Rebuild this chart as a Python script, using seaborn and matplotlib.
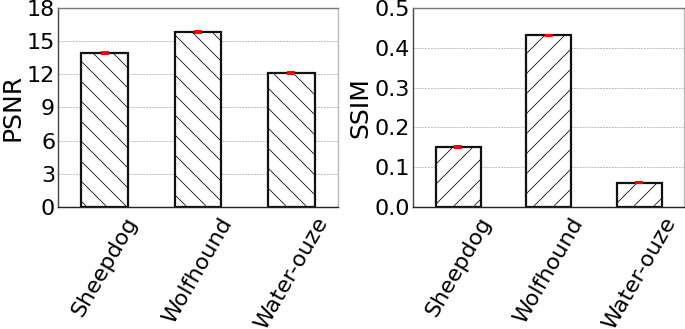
import matplotlib
matplotlib.use("Agg")
import matplotlib.pyplot as plt
import seaborn as sns
import pandas as pd

categories = ["Sheepdog", "Wolfhound", "Water-ouze"]
psnr = [13.9, 15.85, 12.1]
psnr_err = [0.08, 0.08, 0.08]
ssim = [0.151, 0.431, 0.061]
ssim_err = [0.002, 0.002, 0.002]
psnr_ticks = [0, 3, 6, 9, 12, 15, 18]
ssim_ticks = [0.0, 0.1, 0.2, 0.3, 0.4, 0.5]

DPI = 120
S = 100 / DPI

sns.set_theme(style="white")
plt.rcParams['font.family'] = ['DejaVu Sans']
plt.rcParams['hatch.linewidth'] = 0.6 * S
plt.rcParams['hatch.color'] = '#555555'
plt.rcParams['text.color'] = 'black'
plt.rcParams['axes.labelcolor'] = 'black'
plt.rcParams['xtick.color'] = 'black'
plt.rcParams['ytick.color'] = 'black'

fig = plt.figure(figsize=(685 / DPI, 329 / DPI), dpi=DPI)
ax1 = fig.add_axes([0.0847, 0.371, 0.409, 0.605])
ax2 = fig.add_axes([0.603, 0.371, 0.396, 0.605])

def draw(ax, vals, errs, ticks, label, hatch, ylim):
    df = pd.DataFrame({"cat": categories, "val": vals})
    sns.barplot(data=df, x="cat", y="val", ax=ax, color="white", width=0.5,
                edgecolor="#111111", linewidth=1.6 * S, errorbar=None, zorder=3)
    for p in ax.patches:
        p.set_hatch(hatch)
        p.set_facecolor("white")
    ax.errorbar(range(len(vals)), vals, yerr=errs, fmt="none", ecolor="red",
                capsize=3 * S, elinewidth=1.2 * S, capthick=1.4 * S, zorder=4)
    ax.set_ylim(*ylim)
    ax.set_xlim(-0.5, 2.5)
    ax.set_yticks(ticks)
    ax.set_ylabel(label, fontsize=18 * S, labelpad=2 * S, color="black")
    ax.set_xlabel("")
    ax.tick_params(axis="y", labelsize=16 * S, length=0, pad=2 * S, labelcolor="black")
    ax.tick_params(axis="x", labelsize=16 * S, length=3 * S, width=0.8 * S,
                   color="#555555", pad=2 * S, labelcolor="black")
    for t in ax.get_xticklabels():
        t.set_rotation(60)
        t.set_ha("center")
    ax.yaxis.grid(True, linestyle=(0, (2, 1)), color="#bbbbbb", linewidth=0.7 * S, zorder=0)
    ax.set_axisbelow(True)
    ax.spines["bottom"].set_color("#222222")
    ax.spines["left"].set_color("#444444")
    ax.spines["top"].set_color("#777777")
    ax.spines["right"].set_color("#bbbbbb")
    for s in ax.spines.values():
        s.set_linewidth(1.0 * S)

draw(ax1, psnr, psnr_err, psnr_ticks, "PSNR", "\\\\", (0, 18))
draw(ax2, ssim, ssim_err, ssim_ticks, "SSIM", "//", (0, 0.5))

fig.savefig("out.png", dpi=DPI)
